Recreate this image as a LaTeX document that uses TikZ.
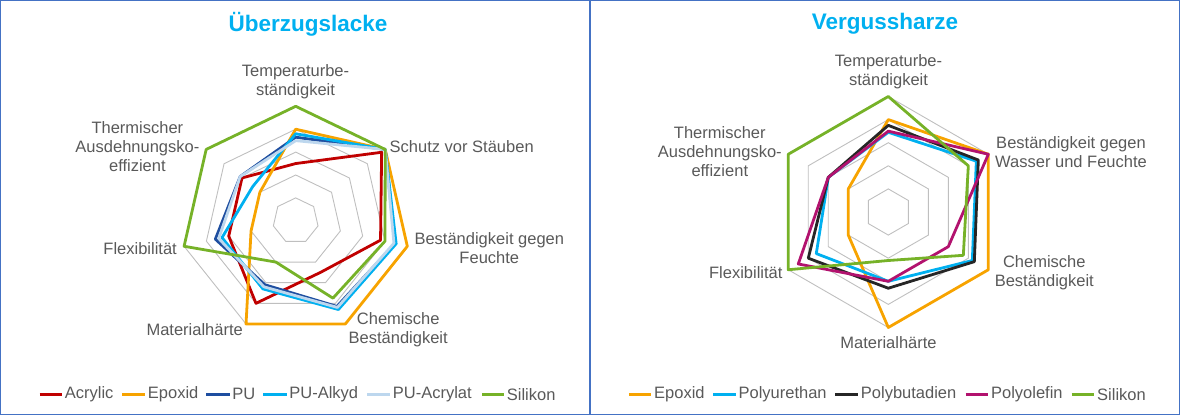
\documentclass[tikz,border=0pt]{standalone}
\usepackage{fontspec}
\setmainfont{Liberation Sans}
\usepackage{tikz}
\definecolor{acrylic}{RGB}{192,0,0}
\definecolor{epoxid}{RGB}{247,163,0}
\definecolor{pu}{RGB}{30,78,160}
\definecolor{pualkyd}{RGB}{0,176,240}
\definecolor{puacrylat}{RGB}{189,215,238}
\definecolor{silikon}{RGB}{118,178,40}
\definecolor{polybut}{RGB}{38,38,38}
\definecolor{polyolefin}{RGB}{178,18,110}
\definecolor{framecol}{RGB}{68,114,196}
\definecolor{labelgray}{RGB}{89,89,89}
\definecolor{gridgray}{RGB}{191,191,191}

\begin{document}
\begin{tikzpicture}[x=1pt,y=1pt,
	ring/.style={draw=gridgray,line width=0.9pt},
	series/.style={line width=2.8pt,line join=round},
	lbl/.style={text=labelgray,font=\fontsize{16.5}{19}\selectfont,inner sep=0pt,align=center},
	legtext/.style={text=labelgray,font=\fontsize{16.5}{19}\selectfont,inner sep=1.5pt,anchor=west},
	heading/.style={text=pualkyd,font=\fontsize{22.5}{26}\selectfont\bfseries}]
	\useasboundingbox (0,0) rectangle (1180,415);
	\draw[framecol,line width=1.2pt] (0.6,0.6) rectangle (590,414.4);
	\draw[framecol,line width=1.2pt] (590,0.6) rectangle (1179.4,414.4);

	\node[heading] (titleL) at (308,391) {Überzugslacke};
	\begin{scope}[shift={(295.7,194.2)},x=22.9pt,y=22.9pt]
		\foreach \r in {1,...,5}
			\draw[ring] (90:\r) -- (38.57:\r) -- (-12.86:\r) -- (-64.29:\r) -- (-115.71:\r) -- (-167.14:\r) -- (141.43:\r) -- cycle;
		\draw[series,acrylic] (90:2.5) -- (38.57:4.8) -- (-12.86:3.8) -- (-64.29:2.5) -- (-115.71:4) -- (-167.14:3) -- (141.43:3) -- cycle;
		\draw[series,epoxid] (90:4) -- (38.57:5) -- (-12.86:5) -- (-64.29:5) -- (-115.71:5) -- (-167.14:2) -- (141.43:2) -- cycle;
		\draw[series,pu] (90:3.65) -- (38.57:5) -- (-12.86:4.45) -- (-64.29:4.15) -- (-115.71:3.1) -- (-167.14:3.6) -- (141.43:3.1) -- cycle;
		\draw[series,pualkyd] (90:3.8) -- (38.57:5) -- (-12.86:4.5) -- (-64.29:4.3) -- (-115.71:3.3) -- (-167.14:3.3) -- (141.43:2.4) -- cycle;
		\draw[series,puacrylat] (90:3.5) -- (38.57:5) -- (-12.86:4.4) -- (-64.29:4.2) -- (-115.71:3.2) -- (-167.14:3.45) -- (141.43:3.1) -- cycle;
		\draw[series,silikon] (90:5) -- (38.57:5) -- (-12.86:4) -- (-64.29:3.75) -- (-115.71:2) -- (-167.14:5) -- (141.43:5) -- cycle;
	\end{scope}
	\node[lbl] (tempL) at (295.5,333.5) {Temperaturbe-\\ständigkeit};
	\node[lbl,anchor=west] (schutzL) at (389.5,268.3) {Schutz vor Stäuben};
	\node[lbl] (feuchteL) at (489.3,166.7) {Beständigkeit gegen\\Feuchte};
	\node[lbl] (chemL) at (398.2,85.3) {Chemische\\Beständigkeit};
	\node[lbl,anchor=east] (haerteL) at (243,85) {Materialhärte};
	\node[lbl,anchor=east] (flexL) at (177,166.7) {Flexibilität};
	\node[lbl] (thermL) at (137.4,268.6) {Thermischer\\Ausdehnungsko-\\effizient};

	\draw[series,acrylic] (39.5,20.7) -- (62,20.7) node[legtext] (legAcrylic) {Acrylic};
	\draw[series,epoxid] (122,20.7) -- (145,20.7) node[legtext] (legEpoxidL) {Epoxid};
	\draw[series,pu] (206,20.7) -- (229.5,20.7) node[legtext] (legPU) {PU};
	\draw[series,pualkyd] (263,20.7) -- (286.5,20.7) node[legtext] (legAlkyd) {PU-Alkyd};
	\draw[series,puacrylat] (367,20.7) -- (390,20.7) node[legtext] (legAcrylat) {PU-Acrylat};
	\draw[series,silikon] (482,20.7) -- (504,20.7) node[legtext] (legSilikonL) {Silikon};

	\node[heading] (titleR) at (885,391) {Vergussharze};
	\begin{scope}[shift={(888.3,203)},x=23.1pt,y=23.1pt]
		\foreach \r in {1,...,5}
			\draw[ring] (90:\r) -- (30:\r) -- (-30:\r) -- (-90:\r) -- (-150:\r) -- (150:\r) -- cycle;
		\draw[series,epoxid] (90:4) -- (30:5) -- (-30:5) -- (-90:5) -- (-150:2) -- (150:2) -- cycle;
		\draw[series,pualkyd] (90:3.45) -- (30:4.4) -- (-30:4.2) -- (-90:3) -- (-150:3.6) -- (150:3) -- cycle;
		\draw[series,polybut] (90:3.75) -- (30:4.5) -- (-30:4.3) -- (-90:3.3) -- (-150:4) -- (150:3) -- cycle;
		\draw[series,polyolefin] (90:3.5) -- (30:5) -- (-30:3) -- (-90:3) -- (-150:4.5) -- (150:3) -- cycle;
		\draw[series,silikon] (90:5) -- (30:4) -- (-30:3.75) -- (-90:2.1) -- (-150:5) -- (150:5) -- cycle;
	\end{scope}
	\node[lbl] (tempR) at (888.5,343.7) {Temperaturbe-\\ständigkeit};
	\node[lbl] (wasserR) at (1071,263) {Beständigkeit gegen\\Wasser und Feuchte};
	\node[lbl] (chemR) at (1044.3,142) {Chemische\\Beständigkeit};
	\node[lbl] (haerteR) at (888.5,72.3) {Materialhärte};
	\node[lbl,anchor=east] (flexR) at (782.7,142.3) {Flexibilität};
	\node[lbl] (thermR) at (719.8,263.1) {Thermischer\\Ausdehnungsko-\\effizient};

	\draw[series,epoxid] (628.8,20.7) -- (651.3,20.7) node[legtext] (legEpoxidR) {Epoxid};
	\draw[series,pualkyd] (713,20.7) -- (735.7,20.7) node[legtext] (legPUR) {Polyurethan};
	\draw[series,polybut] (835.4,20.7) -- (858,20.7) node[legtext] (legButadien) {Polybutadien};
	\draw[series,polyolefin] (965.6,20.7) -- (988.2,20.7) node[legtext] (legOlefin) {Polyolefin};
	\draw[series,silikon] (1071.7,20.7) -- (1094.3,20.7) node[legtext] (legSilikonR) {Silikon};
\end{tikzpicture}
\end{document}
